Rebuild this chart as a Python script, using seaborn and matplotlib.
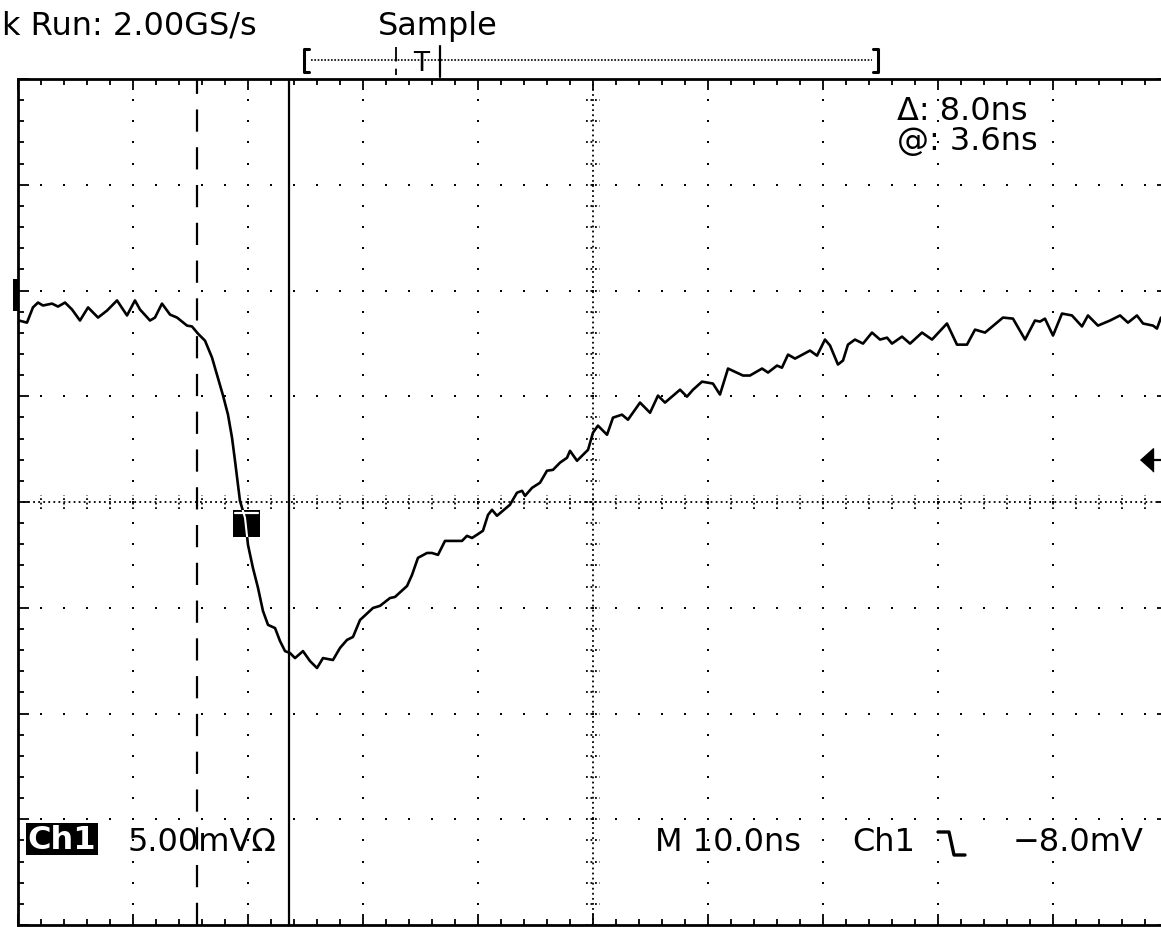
import numpy as np
import pandas as pd
import matplotlib
matplotlib.use("Agg")
import matplotlib.pyplot as plt
from matplotlib.patches import Rectangle
from matplotlib.lines import Line2D
import seaborn as sns

# ---------------- data: Ch1 waveform (time in ns rel. to trigger, volts in mV)
time_ns = [-19.91, -19.22, -18.70, -18.26, -17.83, -17.04, -16.52, -15.91, -15.30, -14.61,
           -13.91, -13.04, -12.26, -11.39, -10.52, -9.83, -9.39, -8.52, -8.09, -7.48,
           -6.78, -6.17, -5.30, -4.87, -4.35, -3.74, -3.13, -2.70, -2.17, -1.74,
           -1.39, -1.13, -0.70, -0.26, 0.00, 0.43, 0.87, 1.30, 1.74, 2.35,
           2.78, 3.22, 3.65, 4.09, 4.78, 5.39, 6.00, 6.52, 7.39, 8.00,
           8.61, 9.13, 9.74, 10.87, 11.48, 12.35, 12.78, 13.83, 14.26, 14.78,
           15.57, 16.00, 16.52, 17.13, 18.61, 19.04, 19.48, 19.91, 20.43, 20.87,
           21.22, 21.65, 22.78, 23.39, 23.83, 24.09, 24.70, 25.39, 26.00, 26.52,
           27.13, 27.74, 28.00, 28.61, 29.57, 30.00, 30.43, 31.22, 31.74, 32.52,
           33.04, 34.09, 34.96, 35.65, 36.26, 37.57, 38.17, 38.70, 39.48, 40.43,
           41.04, 41.74, 43.04, 43.65, 44.70, 45.22, 46.00, 46.43, 46.96, 47.57,
           48.87, 49.48, 50.17, 50.61, 51.30, 51.74, 52.17, 52.78, 53.48, 54.26,
           54.96, 55.57, 56.00, 56.87, 57.57, 58.61, 59.48, 60.78, 61.65, 62.52,
           63.22, 64.09, 65.65, 66.52, 67.57, 68.43, 68.87, 69.30, 70.00, 70.78,
           71.65, 72.52, 73.04, 73.91, 74.96, 75.83, 76.52, 77.30, 77.83, 78.70,
           79.04, 79.39]
volt_mv = [-1.42, -1.52, -0.80, -0.57, -0.71, -0.62, -0.76, -0.57, -0.90, -1.42,
           -0.80, -1.28, -0.95, -0.47, -1.18, -0.47, -0.90, -1.42, -1.28, -0.62,
           -1.14, -1.28, -1.66, -1.70, -2.04, -2.37, -3.17, -3.98, -4.97, -5.87,
           -6.96, -8.05, -9.94, -10.75, -12.03, -13.12, -14.06, -15.15, -15.81, -15.96,
           -16.57, -17.05, -17.14, -17.38, -17.05, -17.52, -17.85, -17.38, -17.47, -16.90,
           -16.52, -16.38, -15.58, -15.01, -14.91, -14.54, -14.49, -13.97, -13.45, -12.64,
           -12.41, -12.41, -12.50, -11.84, -11.84, -11.60, -11.70, -11.55, -11.36, -10.61,
           -10.37, -10.65, -10.13, -9.56, -9.47, -9.71, -9.33, -9.09, -8.52, -8.48,
           -8.14, -7.91, -7.58, -8.05, -7.53, -6.72, -6.39, -6.82, -6.01, -5.87,
           -6.11, -5.30, -5.78, -4.97, -5.30, -4.69, -5.02, -4.69, -4.31, -4.40,
           -4.92, -3.69, -4.02, -4.02, -3.69, -3.88, -3.55, -3.65, -3.03, -3.22,
           -2.84, -3.08, -2.32, -2.60, -3.50, -3.31, -2.56, -2.32, -2.51, -1.99,
           -2.32, -2.23, -2.51, -2.18, -2.51, -1.99, -2.32, -1.56, -2.56, -2.56,
           -1.85, -1.99, -1.28, -1.33, -2.32, -1.42, -1.47, -1.33, -2.13, -1.09,
           -1.18, -1.70, -1.18, -1.66, -1.42, -1.18, -1.52, -1.18, -1.56, -1.66,
           -1.80, -1.28]

# ---------------- instrument settings / readouts
time_div_ns = 10.0
volt_div_mv = 5.0
center_mv = -10.0
trigger_level_mv = -8.0
cursor1_ns = -4.4
cursor2_ns = 3.6
trig_mark_ns = -0.13
trig_mark_mv = -11.0
arrow_tip_ns = 77.6

header_left = "k Run: 2.00GS/s"
header_mode = "Sample"
readout_delta = "Δ: 8.0ns"
readout_at = "@: 3.6ns"
ch_label = "Ch1"
ch_scale = "5.00mVΩ"
time_scale = "M 10.0ns"
trig_src = "Ch1"
trig_val = "−8.0mV"

# ---------------- figure
sns.set_theme(style="white")
plt.rcParams['font.family'] = ['DejaVu Sans']
W, H = 1161, 928
fig = plt.figure(figsize=(W / 100, H / 100), dpi=100, facecolor="white")


def fx(px):
    return px / W


def fy(py):
    return 1 - py / H


ax = fig.add_axes([fx(18), 2 / H, 1150 / W, 846 / H])
ax.set_facecolor("white")
x0, x1 = -2 * time_div_ns, 8 * time_div_ns
y0, y1 = center_mv - 4 * volt_div_mv, center_mv + 4 * volt_div_mv
ax.set_xlim(x0, x1)
ax.set_ylim(y0, y1)

major_x = np.arange(x0, x1 + 0.01, time_div_ns)
minor_x = np.arange(x0, x1 + 0.01, time_div_ns / 5)
major_y = np.arange(y0, y1 + 0.01, volt_div_mv)
minor_y = np.arange(y0, y1 + 0.01, volt_div_mv / 5)
center_x = (x0 + x1) / 2

# graticule dots on the major lines
gx, gy = [], []
for mx in major_x[1:-1]:
    if abs(mx - center_x) < 1e-6:
        continue
    gx += [mx] * len(minor_y)
    gy += list(minor_y)
for my in major_y[1:-1]:
    if abs(my - center_mv) < 1e-6:
        continue
    gx += list(minor_x)
    gy += [my] * len(minor_x)
ax.scatter(gx, gy, s=2.6, marker="s", color="black", linewidths=0, zorder=1)

# centre cross-hair
ax.axvline(center_x, color="black", lw=1.3, ls=(0, (1, 1.8)), zorder=1)
ax.axhline(center_mv, color="black", lw=1.3, ls=(0, (1, 1.8)), zorder=1)
dx = 0.6
dy = 0.33
ax.vlines(minor_x, center_mv - dy, center_mv + dy, color="black", lw=1.3,
          linestyles=(0, (1, 1.5)), zorder=1)
ax.hlines(minor_y, center_x - dx, center_x + dx, color="black", lw=1.3,
          linestyles=(0, (1, 1.5)), zorder=1)

# border ticks
ax.set_xticks(major_x)
ax.set_xticks(minor_x, minor=True)
ax.set_yticks(major_y)
ax.set_yticks(minor_y, minor=True)
ax.tick_params(which="both", direction="in", top=True, right=True, bottom=True, left=True,
               labelbottom=False, labelleft=False, color="black", width=1.3)
ax.tick_params(which="major", length=8)
ax.tick_params(which="minor", length=4)
for s in ax.spines.values():
    s.set_color("black")
    s.set_linewidth(2.0)
ax.grid(False)

# cursors
ax.axvline(cursor1_ns, color="black", lw=1.6, ls=(0, (10, 7)), zorder=2)
ax.axvline(cursor2_ns, color="black", lw=1.6, zorder=2)

# waveform
df = pd.DataFrame({"t": time_ns, "v": volt_mv})
sns.lineplot(data=df, x="t", y="v", ax=ax, color="black", lw=1.9, sort=False,
             estimator=None, zorder=3)
ax.set_xlabel("")
ax.set_ylabel("")

# trigger point marker (inverse box)
bw, bh = 2.35, 1.28
box = Rectangle((trig_mark_ns - bw / 2, trig_mark_mv - bh / 2), bw, bh,
                facecolor="black", edgecolor="none", zorder=4)
ax.add_patch(box)
inv, = ax.plot(time_ns, volt_mv, color="white", lw=1.5, zorder=5)
inv.set_clip_path(box)
ax.plot([trig_mark_ns - bw / 2 + 0.2, trig_mark_ns + bw / 2 - 0.2],
        [trig_mark_mv + bh / 2 - 0.18] * 2, color="white", lw=1.6, zorder=5)

# trigger level arrow on right edge
ax.plot([arrow_tip_ns], [trigger_level_mv], marker=[(0, 0), (1, 0.9), (1, -0.9)],
        ms=18.7, color="black", lw=0, zorder=5, clip_on=False)
ax.plot([arrow_tip_ns + 0.5, x1], [trigger_level_mv] * 2, color="black", lw=1.6,
        zorder=5, clip_on=False)

# ground marker on left edge
fig.add_artist(Rectangle((fx(13), fy(312)), 5 / W, 32 / H, transform=fig.transFigure,
                         facecolor="black", edgecolor="none"))

# ---------------- header texts
fs = 23
fig.text(fx(2), fy(35), header_left, fontsize=fs, color="black", va="baseline")
fig.text(fx(378), fy(35), header_mode, fontsize=fs, color="black", va="baseline")


def fline(xs, ys, **kw):
    fig.add_artist(Line2D([fx(v) for v in xs], [fy(v) for v in ys],
                          transform=fig.transFigure, color="black", **kw))


# record bar
fline([309, 304, 304, 309], [50, 50, 73, 73], lw=2.2)
fline([873, 878, 878, 873], [50, 50, 73, 73], lw=2.2)
fline([311, 872], [61, 61], lw=1.2, ls=(0, (1, 1)))
fline([396, 396], [48, 76], lw=1.3, ls=(0, (8, 4)))
fline([440, 440], [47, 78], lw=1.6)
fig.text(fx(421), fy(64), "T", fontsize=19, color="black", ha="center", va="center")

# cursor readouts
fig.text(fx(897), fy(120), readout_delta, fontsize=fs, color="black", va="baseline")
fig.text(fx(897), fy(150), readout_at, fontsize=fs, color="black", va="baseline")

# bottom readouts
fig.add_artist(Rectangle((fx(26), fy(856)), 72 / W, 32 / H, transform=fig.transFigure,
                         facecolor="black", edgecolor="none"))
fig.text(fx(62), fy(841), ch_label, fontsize=fs, color="white", ha="center",
         va="center", fontweight="bold")
t_scale = fig.text(fx(127), fy(851), ch_scale, fontsize=fs, color="black", va="baseline")
clip = Rectangle((0, 0), fx(289), 1, transform=fig.transFigure)
t_scale.set_clip_on(True)
t_scale.set_clip_path(clip)

fig.text(fx(655), fy(851), time_scale, fontsize=fs, color="black", va="baseline")
fig.text(fx(852), fy(851), trig_src, fontsize=fs, color="black", va="baseline")
fline([938, 949, 954, 965], [833, 833, 856, 856], lw=2.4)
fig.text(fx(1013), fy(851), trig_val, fontsize=fs, color="black", va="baseline")

fig.savefig("out.png", dpi=100, facecolor="white")
